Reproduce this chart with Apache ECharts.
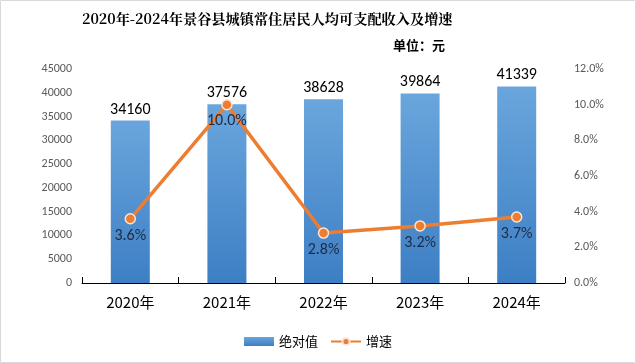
<!DOCTYPE html>
<html><head><meta charset="utf-8">
<script src="https://cdn.jsdelivr.net/npm/echarts@6/dist/echarts.min.js"></script>
<style>html,body{margin:0;padding:0;background:#fff}#c{width:636px;height:363px}</style>
</head><body><div id="c"></div>
<script>
const categories = ['2020年','2021年','2022年','2023年','2024年'];
const absValues = [34160, 37576, 38628, 39864, 41339];
const growthValues = [3.6, 10.0, 2.8, 3.2, 3.7];
const leftTicks = {min:0, max:45000, interval:5000};
const rightTicks = {min:0, max:12, interval:2};

const chart = echarts.init(document.getElementById('c'));
chart.setOption({
  animation:false,
  backgroundColor:'#fff',
  graphic:[{type:'rect',shape:{x:0.5,y:0.5,width:635,height:362},style:{fill:'none',stroke:'#d9d9d9',lineWidth:1}}],
  title:[{text:'2020年-2024年景谷县城镇常住居民人均可支配收入及增速',left:77,top:7,
    textStyle:{fontFamily:'"Noto Serif CJK SC","Noto Sans CJK SC",serif',fontSize:14.2,fontWeight:'bold',color:'#000'}},
    {text:'单位：元',left:388,top:34,textStyle:{fontFamily:'"Noto Sans CJK SC",sans-serif',fontSize:13,fontWeight:'bold',color:'#000'}}],
  legend:{bottom:10,left:'center',itemGap:12,itemWidth:30,itemHeight:9,
    textStyle:{fontFamily:'"Noto Sans CJK SC",sans-serif',fontSize:13,color:'#000'},
    data:[{name:'绝对值',icon:'rect'},{name:'增速'}]},
  grid:{left:82,right:71,top:69,bottom:80,containLabel:false},
  xAxis:{type:'category',data:categories,
    axisLine:{lineStyle:{color:'#000',width:1}},
    axisTick:{show:true,length:6,inside:true,lineStyle:{color:'#000'}},
    axisLabel:{color:'#000',fontSize:15,margin:12,fontFamily:'"Noto Sans CJK SC",sans-serif'}},
  yAxis:[{type:'value',min:leftTicks.min,max:leftTicks.max,interval:leftTicks.interval,
    axisLine:{show:false},axisTick:{show:false},splitLine:{show:false},
    axisLabel:{color:'#595959',fontSize:12,margin:10,formatter:v=>String(v),fontFamily:'Calibri,"Liberation Sans",sans-serif'}},
   {type:'value',min:rightTicks.min,max:rightTicks.max,interval:rightTicks.interval,
    axisLine:{show:false},axisTick:{show:false},splitLine:{show:false},
    axisLabel:{color:'#595959',fontSize:12,margin:9,formatter:v=>v.toFixed(1)+'%',fontFamily:'Calibri,"Liberation Sans",sans-serif'}}],
  series:[{name:'绝对值',type:'bar',data:absValues,barWidth:39,
    itemStyle:{color:new echarts.graphic.LinearGradient(0,0,0,1,[{offset:0,color:'#6aa6dd'},{offset:1,color:'#3d7fc4'}])},
    label:{show:true,position:'top',color:'#000',fontSize:16,distance:3,fontFamily:'Calibri,"Liberation Sans",sans-serif'}},
   {name:'增速',type:'line',yAxisIndex:1,data:growthValues,symbol:'circle',symbolSize:10,
    lineStyle:{color:'#ed7d31',width:3.5},
    itemStyle:{color:'#ed7d31',borderColor:'#fbe5d6',borderWidth:1.5},
    label:{show:true,position:'bottom',distance:3,color:'#1f2a44',fontSize:16,formatter:p=>p.value.toFixed(1)+'%',fontFamily:'Calibri,"Liberation Sans",sans-serif'}}]
});
</script></body></html>
